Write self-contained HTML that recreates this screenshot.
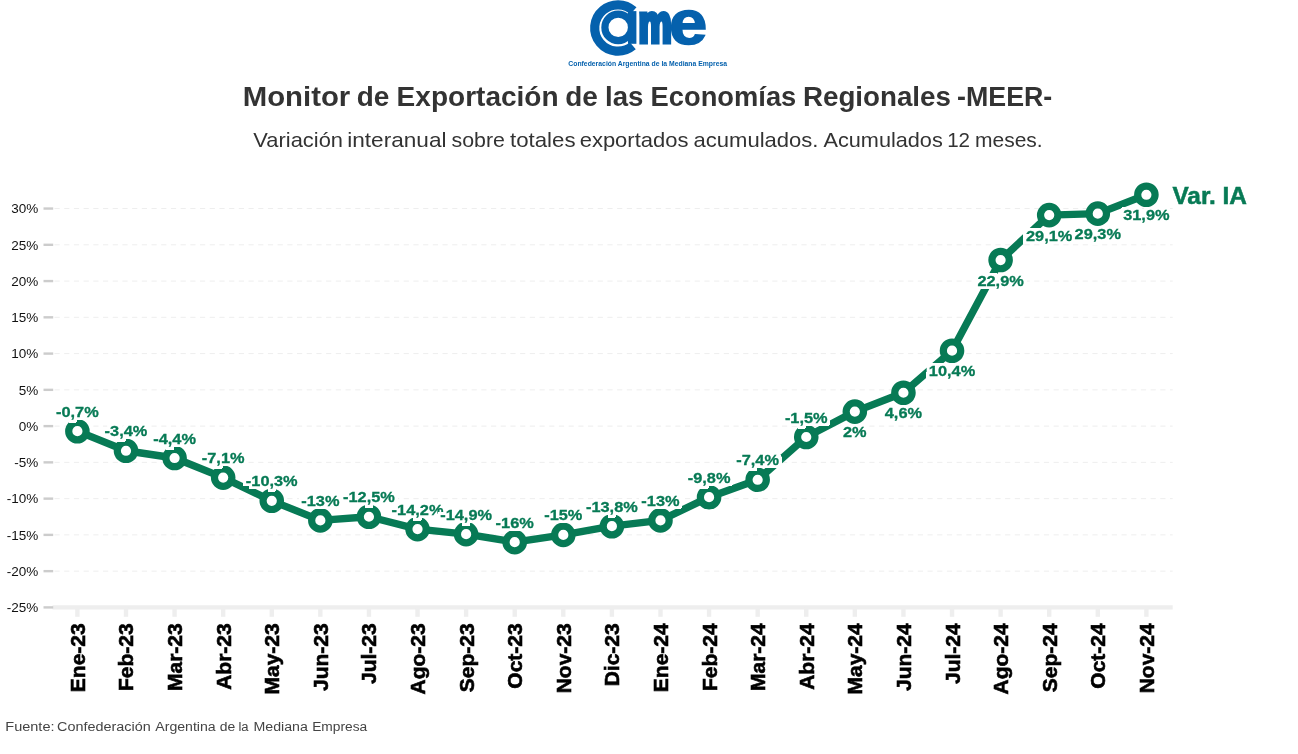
<!DOCTYPE html>
<html lang="es"><head><meta charset="utf-8"><title>Monitor de Exportación de las Economías Regionales -MEER-</title>
<style>html,body{margin:0;padding:0;background:#fff;overflow:hidden}svg{display:block}text{font-family:"Liberation Sans",sans-serif}.b{font-weight:700}</style></head><body>
<svg width="1298" height="754" viewBox="0 0 1298 754">
<rect width="1298" height="754" fill="#fff"/>
<defs><filter id="halo" x="-30%" y="-60%" width="160%" height="220%" color-interpolation-filters="sRGB"><feMorphology in="SourceAlpha" operator="dilate" radius="2.9" result="d"/><feGaussianBlur in="d" stdDeviation="0.7" result="g"/><feComponentTransfer in="g" result="m"><feFuncA type="linear" slope="8" intercept="-3"/></feComponentTransfer><feFlood flood-color="#fff" result="w"/><feComposite in="w" in2="m" operator="in" result="h"/><feMerge><feMergeNode in="h"/><feMergeNode in="SourceGraphic"/></feMerge></filter></defs>
<g id="logo" role="img" aria-label="came">
<circle cx="617.9" cy="28" r="23.2" fill="none" stroke="#0561ad" stroke-width="9.2" stroke-dasharray="105.28 40.49" transform="rotate(50 617.9 28)"/>
<circle cx="618.2" cy="27.4" r="13.3" fill="none" stroke="#0561ad" stroke-width="7.2"/>
<rect x="628" y="11.1" width="8.4" height="32.7" fill="#0561ad"/>
<text class="b" transform="translate(638.6 42.0) scale(0.603 0.867)" font-size="62" fill="#0561ad" stroke="#0561ad" stroke-width="5.72" stroke-linejoin="miter">m</text>
<text class="b" transform="translate(669.0 43.9) scale(1.11 1.03)" font-size="62" fill="#0561ad" stroke="#0561ad" stroke-width="1.5">e</text>
<text class="b" x="568.3" y="65.7" font-size="6.7" fill="#0561ad" textLength="158.8" lengthAdjust="spacingAndGlyphs">Confederación Argentina de la Mediana Empresa</text>
</g>
<text y="106.0" font-size="28.2" class="b" fill="#333"><tspan x="242.73" textLength="107.52" lengthAdjust="spacingAndGlyphs">Monitor</tspan> <tspan x="356.65" textLength="32.59" lengthAdjust="spacingAndGlyphs">de</tspan> <tspan x="396.62" textLength="162.01" lengthAdjust="spacingAndGlyphs">Exportación</tspan> <tspan x="565.15" textLength="32.59" lengthAdjust="spacingAndGlyphs">de</tspan> <tspan x="605.07" textLength="38.37" lengthAdjust="spacingAndGlyphs">las</tspan> <tspan x="650.57" textLength="145.75" lengthAdjust="spacingAndGlyphs">Economías</tspan> <tspan x="802.94" textLength="148.00" lengthAdjust="spacingAndGlyphs">Regionales</tspan> <tspan x="957.06" textLength="95.22" lengthAdjust="spacingAndGlyphs">-MEER-</tspan></text>
<text y="146.5" font-size="20.6" fill="#333"><tspan x="253.39" textLength="89.63" lengthAdjust="spacingAndGlyphs">Variación</tspan> <tspan x="347.18" textLength="99.33" lengthAdjust="spacingAndGlyphs">interanual</tspan> <tspan x="451.50" textLength="53.45" lengthAdjust="spacingAndGlyphs">sobre</tspan> <tspan x="509.97" textLength="65.54" lengthAdjust="spacingAndGlyphs">totales</tspan> <tspan x="579.68" textLength="108.81" lengthAdjust="spacingAndGlyphs">exportados</tspan> <tspan x="693.57" textLength="124.93" lengthAdjust="spacingAndGlyphs">acumulados.</tspan> <tspan x="823.46" textLength="119.32" lengthAdjust="spacingAndGlyphs">Acumulados</tspan> <tspan x="947.14" textLength="22.90" lengthAdjust="spacingAndGlyphs">12</tspan> <tspan x="975.01" textLength="67.70" lengthAdjust="spacingAndGlyphs">meses.</tspan></text>
<g stroke="#eeeeee" stroke-width="1" stroke-dasharray="5.2 4.5" fill="none">
<line x1="54.5" x2="1172.7" y1="208.55" y2="208.55"/>
<line x1="54.5" x2="1172.7" y1="244.81" y2="244.81"/>
<line x1="54.5" x2="1172.7" y1="281.07" y2="281.07"/>
<line x1="54.5" x2="1172.7" y1="317.33" y2="317.33"/>
<line x1="54.5" x2="1172.7" y1="353.59" y2="353.59"/>
<line x1="54.5" x2="1172.7" y1="389.85" y2="389.85"/>
<line x1="54.5" x2="1172.7" y1="426.11" y2="426.11"/>
<line x1="54.5" x2="1172.7" y1="462.37" y2="462.37"/>
<line x1="54.5" x2="1172.7" y1="498.63" y2="498.63"/>
<line x1="54.5" x2="1172.7" y1="534.89" y2="534.89"/>
<line x1="54.5" x2="1172.7" y1="571.15" y2="571.15"/>
</g>
<g stroke="#eeeeee" stroke-width="4.4" fill="none">
<line x1="52.5" x2="1172.7" y1="607.41" y2="607.41"/>
<line x1="77.40" x2="77.40" y1="607.41" y2="616.8"/>
<line x1="125.99" x2="125.99" y1="607.41" y2="616.8"/>
<line x1="174.58" x2="174.58" y1="607.41" y2="616.8"/>
<line x1="223.17" x2="223.17" y1="607.41" y2="616.8"/>
<line x1="271.76" x2="271.76" y1="607.41" y2="616.8"/>
<line x1="320.35" x2="320.35" y1="607.41" y2="616.8"/>
<line x1="368.94" x2="368.94" y1="607.41" y2="616.8"/>
<line x1="417.53" x2="417.53" y1="607.41" y2="616.8"/>
<line x1="466.12" x2="466.12" y1="607.41" y2="616.8"/>
<line x1="514.71" x2="514.71" y1="607.41" y2="616.8"/>
<line x1="563.30" x2="563.30" y1="607.41" y2="616.8"/>
<line x1="611.89" x2="611.89" y1="607.41" y2="616.8"/>
<line x1="660.48" x2="660.48" y1="607.41" y2="616.8"/>
<line x1="709.07" x2="709.07" y1="607.41" y2="616.8"/>
<line x1="757.66" x2="757.66" y1="607.41" y2="616.8"/>
<line x1="806.25" x2="806.25" y1="607.41" y2="616.8"/>
<line x1="854.84" x2="854.84" y1="607.41" y2="616.8"/>
<line x1="903.43" x2="903.43" y1="607.41" y2="616.8"/>
<line x1="952.02" x2="952.02" y1="607.41" y2="616.8"/>
<line x1="1000.61" x2="1000.61" y1="607.41" y2="616.8"/>
<line x1="1049.20" x2="1049.20" y1="607.41" y2="616.8"/>
<line x1="1097.79" x2="1097.79" y1="607.41" y2="616.8"/>
<line x1="1146.38" x2="1146.38" y1="607.41" y2="616.8"/>
</g>
<g stroke="#cccccc" stroke-width="2.4">
<line x1="43.5" x2="53.2" y1="208.55" y2="208.55"/>
<line x1="43.5" x2="53.2" y1="244.81" y2="244.81"/>
<line x1="43.5" x2="53.2" y1="281.07" y2="281.07"/>
<line x1="43.5" x2="53.2" y1="317.33" y2="317.33"/>
<line x1="43.5" x2="53.2" y1="353.59" y2="353.59"/>
<line x1="43.5" x2="53.2" y1="389.85" y2="389.85"/>
<line x1="43.5" x2="53.2" y1="426.11" y2="426.11"/>
<line x1="43.5" x2="53.2" y1="462.37" y2="462.37"/>
<line x1="43.5" x2="53.2" y1="498.63" y2="498.63"/>
<line x1="43.5" x2="53.2" y1="534.89" y2="534.89"/>
<line x1="43.5" x2="53.2" y1="571.15" y2="571.15"/>
<line x1="43.5" x2="53.2" y1="607.41" y2="607.41"/>
</g>
<g font-size="13.5" fill="#111" text-anchor="end">
<text x="38.2" y="213.35">30%</text>
<text x="38.2" y="249.61">25%</text>
<text x="38.2" y="285.87">20%</text>
<text x="38.2" y="322.13">15%</text>
<text x="38.2" y="358.39">10%</text>
<text x="38.2" y="394.65">5%</text>
<text x="38.2" y="430.91">0%</text>
<text x="38.2" y="467.17">-5%</text>
<text x="38.2" y="503.43">-10%</text>
<text x="38.2" y="539.69">-15%</text>
<text x="38.2" y="575.95">-20%</text>
<text x="38.2" y="612.21">-25%</text>
</g>
<g class="b" font-size="21" fill="#000" stroke="#000" stroke-width="0.6" text-anchor="end">
<text transform="translate(84.90 623.3) rotate(-90)">Ene-23</text>
<text transform="translate(133.49 623.3) rotate(-90)">Feb-23</text>
<text transform="translate(182.08 623.3) rotate(-90)">Mar-23</text>
<text transform="translate(230.67 623.3) rotate(-90)">Abr-23</text>
<text transform="translate(279.26 623.3) rotate(-90)">May-23</text>
<text transform="translate(327.85 623.3) rotate(-90)">Jun-23</text>
<text transform="translate(376.44 623.3) rotate(-90)">Jul-23</text>
<text transform="translate(425.03 623.3) rotate(-90)">Ago-23</text>
<text transform="translate(473.62 623.3) rotate(-90)">Sep-23</text>
<text transform="translate(522.21 623.3) rotate(-90)">Oct-23</text>
<text transform="translate(570.80 623.3) rotate(-90)">Nov-23</text>
<text transform="translate(619.39 623.3) rotate(-90)">Dic-23</text>
<text transform="translate(667.98 623.3) rotate(-90)">Ene-24</text>
<text transform="translate(716.57 623.3) rotate(-90)">Feb-24</text>
<text transform="translate(765.16 623.3) rotate(-90)">Mar-24</text>
<text transform="translate(813.75 623.3) rotate(-90)">Abr-24</text>
<text transform="translate(862.34 623.3) rotate(-90)">May-24</text>
<text transform="translate(910.93 623.3) rotate(-90)">Jun-24</text>
<text transform="translate(959.52 623.3) rotate(-90)">Jul-24</text>
<text transform="translate(1008.11 623.3) rotate(-90)">Ago-24</text>
<text transform="translate(1056.70 623.3) rotate(-90)">Sep-24</text>
<text transform="translate(1105.29 623.3) rotate(-90)">Oct-24</text>
<text transform="translate(1153.88 623.3) rotate(-90)">Nov-24</text>
</g>
<polyline points="77.40,431.19 125.99,450.77 174.58,458.02 223.17,477.60 271.76,500.81 320.35,520.39 368.94,516.76 417.53,529.09 466.12,534.16 514.71,542.14 563.30,534.89 611.89,526.19 660.48,520.39 709.07,497.18 757.66,479.77 806.25,436.99 854.84,411.61 903.43,392.75 952.02,350.69 1000.61,260.04 1049.20,215.08 1097.79,213.63 1146.38,194.77" fill="none" stroke="#077a55" stroke-width="7.4" stroke-linejoin="round" stroke-linecap="round"/>
<g fill="#fff" stroke="#077a55" stroke-width="7.2">
<circle cx="77.40" cy="431.19" r="8.7"/>
<circle cx="125.99" cy="450.77" r="8.7"/>
<circle cx="174.58" cy="458.02" r="8.7"/>
<circle cx="223.17" cy="477.60" r="8.7"/>
<circle cx="271.76" cy="500.81" r="8.7"/>
<circle cx="320.35" cy="520.39" r="8.7"/>
<circle cx="368.94" cy="516.76" r="8.7"/>
<circle cx="417.53" cy="529.09" r="8.7"/>
<circle cx="466.12" cy="534.16" r="8.7"/>
<circle cx="514.71" cy="542.14" r="8.7"/>
<circle cx="563.30" cy="534.89" r="8.7"/>
<circle cx="611.89" cy="526.19" r="8.7"/>
<circle cx="660.48" cy="520.39" r="8.7"/>
<circle cx="709.07" cy="497.18" r="8.7"/>
<circle cx="757.66" cy="479.77" r="8.7"/>
<circle cx="806.25" cy="436.99" r="8.7"/>
<circle cx="854.84" cy="411.61" r="8.7"/>
<circle cx="903.43" cy="392.75" r="8.7"/>
<circle cx="952.02" cy="350.69" r="8.7"/>
<circle cx="1000.61" cy="260.04" r="8.7"/>
<circle cx="1049.20" cy="215.08" r="8.7"/>
<circle cx="1097.79" cy="213.63" r="8.7"/>
<circle cx="1146.38" cy="194.77" r="8.7"/>
</g>
<g class="b" font-size="14.9" fill="#077a55" stroke="#077a55" stroke-width="0.3" text-anchor="middle">
<text x="77.40" y="416.79" textLength="42.7" lengthAdjust="spacingAndGlyphs" filter="url(#halo)">-0,7%</text>
<text x="125.99" y="436.37" textLength="42.7" lengthAdjust="spacingAndGlyphs" filter="url(#halo)">-3,4%</text>
<text x="174.58" y="443.62" textLength="42.7" lengthAdjust="spacingAndGlyphs" filter="url(#halo)">-4,4%</text>
<text x="223.17" y="463.20" textLength="42.7" lengthAdjust="spacingAndGlyphs" filter="url(#halo)">-7,1%</text>
<text x="271.76" y="486.41" textLength="51.8" lengthAdjust="spacingAndGlyphs" filter="url(#halo)">-10,3%</text>
<text x="320.35" y="505.99" textLength="38.2" lengthAdjust="spacingAndGlyphs" filter="url(#halo)">-13%</text>
<text x="368.94" y="502.36" textLength="51.8" lengthAdjust="spacingAndGlyphs" filter="url(#halo)">-12,5%</text>
<text x="417.53" y="514.69" textLength="51.8" lengthAdjust="spacingAndGlyphs" filter="url(#halo)">-14,2%</text>
<text x="466.12" y="519.76" textLength="51.8" lengthAdjust="spacingAndGlyphs" filter="url(#halo)">-14,9%</text>
<text x="514.71" y="527.74" textLength="38.2" lengthAdjust="spacingAndGlyphs" filter="url(#halo)">-16%</text>
<text x="563.30" y="520.49" textLength="38.2" lengthAdjust="spacingAndGlyphs" filter="url(#halo)">-15%</text>
<text x="611.89" y="511.79" textLength="51.8" lengthAdjust="spacingAndGlyphs" filter="url(#halo)">-13,8%</text>
<text x="660.48" y="505.99" textLength="38.2" lengthAdjust="spacingAndGlyphs" filter="url(#halo)">-13%</text>
<text x="709.07" y="482.78" textLength="42.7" lengthAdjust="spacingAndGlyphs" filter="url(#halo)">-9,8%</text>
<text x="757.66" y="465.37" textLength="42.7" lengthAdjust="spacingAndGlyphs" filter="url(#halo)">-7,4%</text>
<text x="806.25" y="422.59" textLength="42.7" lengthAdjust="spacingAndGlyphs" filter="url(#halo)">-1,5%</text>
<text x="854.84" y="437.21" textLength="23.6" lengthAdjust="spacingAndGlyphs" filter="url(#halo)">2%</text>
<text x="903.43" y="418.35" textLength="37.3" lengthAdjust="spacingAndGlyphs" filter="url(#halo)">4,6%</text>
<text x="952.02" y="376.29" textLength="46.4" lengthAdjust="spacingAndGlyphs" filter="url(#halo)">10,4%</text>
<text x="1000.61" y="285.64" textLength="46.4" lengthAdjust="spacingAndGlyphs" filter="url(#halo)">22,9%</text>
<text x="1049.20" y="240.68" textLength="46.4" lengthAdjust="spacingAndGlyphs" filter="url(#halo)">29,1%</text>
<text x="1097.79" y="239.23" textLength="46.4" lengthAdjust="spacingAndGlyphs" filter="url(#halo)">29,3%</text>
<text x="1146.38" y="220.37" textLength="46.4" lengthAdjust="spacingAndGlyphs" filter="url(#halo)">31,9%</text>
</g>
<text class="b" x="1172.4" y="204.0" font-size="23.8" fill="#077a55" stroke="#077a55" stroke-width="0.5" textLength="74.6" lengthAdjust="spacingAndGlyphs" filter="url(#halo)">Var. IA</text>
<text y="730.8" font-size="13.7" fill="#444"><tspan x="5.31" textLength="49.21" lengthAdjust="spacingAndGlyphs">Fuente:</tspan> <tspan x="57.07" textLength="93.68" lengthAdjust="spacingAndGlyphs">Confederación</tspan> <tspan x="155.27" textLength="60.43" lengthAdjust="spacingAndGlyphs">Argentina</tspan> <tspan x="219.81" textLength="15.50" lengthAdjust="spacingAndGlyphs">de</tspan> <tspan x="238.42" textLength="10.18" lengthAdjust="spacingAndGlyphs">la</tspan> <tspan x="253.54" textLength="54.36" lengthAdjust="spacingAndGlyphs">Mediana</tspan> <tspan x="312.17" textLength="55.03" lengthAdjust="spacingAndGlyphs">Empresa</tspan></text>
</svg></body></html>
